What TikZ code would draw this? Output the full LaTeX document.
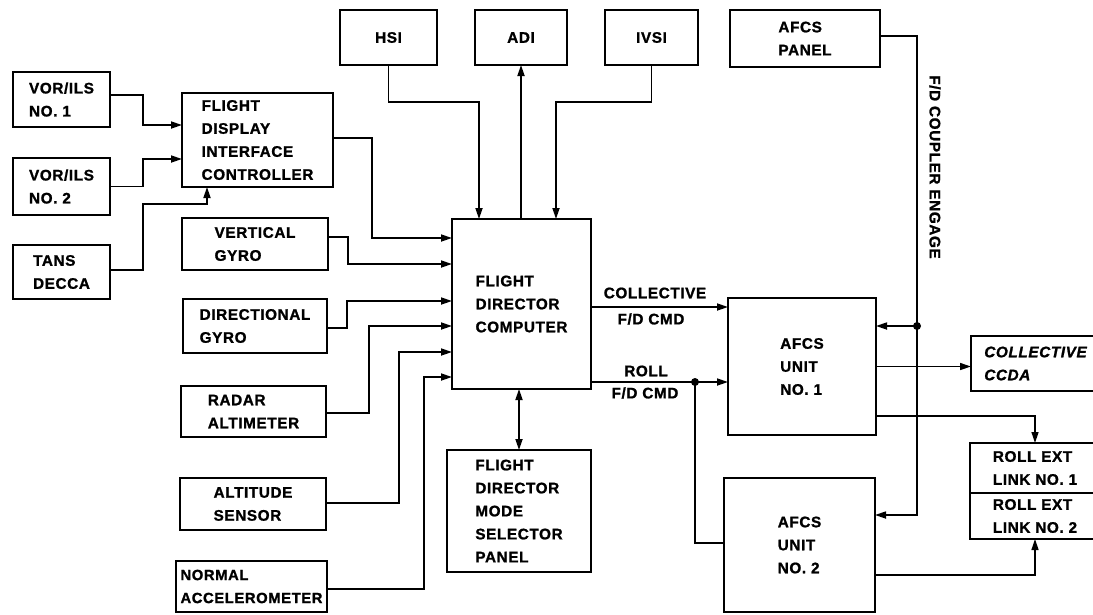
\documentclass[tikz,border=0pt]{standalone}
\usepackage{fontspec}
\setmainfont{Liberation Sans}[LetterSpace=4, BoldFeatures={FakeBold=1.2}, BoldItalicFeatures={FakeBold=1.2}]
\usetikzlibrary{arrows.meta}
\begin{document}
\begin{tikzpicture}[x=1pt,y=-1pt,
  box/.style={draw, line width=2.8pt, anchor=north west, inner sep=0pt, outer sep=0pt,
    align=left, font=\bfseries\fontsize{15.3}{23}\selectfont},
  conn/.style={line width=1.7pt, -{Triangle[length=11pt,width=7pt]}},
  thinconn/.style={line width=1.3pt, -{Triangle[length=11pt,width=7pt]}},
  plain/.style={line width=1.7pt},
  lbl/.style={font=\bfseries\fontsize{15.3}{23}\selectfont, inner sep=0pt},
  dot/.style={circle, fill, inner sep=0pt, minimum size=8pt}]
\fill[white] (0,0) rectangle (1093,614);
\useasboundingbox (0,0) rectangle (1093,614);

% left inputs
\node[box, minimum width=97pt, minimum height=55pt] (vor1) at (13,72) {VOR/ILS\\NO. 1};
\node[box, minimum width=97pt, minimum height=57pt] (vor2) at (13,158) {VOR/ILS\\NO. 2};
\node[box, minimum width=97pt, minimum height=54pt] (tans) at (13,245) {TANS\\DECCA};
\node[box, minimum width=151pt, minimum height=94pt] (fdic) at (182,93) {FLIGHT\\DISPLAY\\INTERFACE\\CONTROLLER};

\node[box, minimum width=146pt, minimum height=52pt] (vg) at (182,218) {VERTICAL\\GYRO};
\node[box, minimum width=144pt, minimum height=54pt] (dg) at (183,299) {DIRECTIONAL\\GYRO};
\node[box, minimum width=145pt, minimum height=51pt] (radar) at (181,386) {RADAR\\ALTIMETER};
\node[box, minimum width=146pt, minimum height=52pt] (alt) at (180,478) {ALTITUDE\\SENSOR};
\node[box, minimum width=151pt, minimum height=51pt, font=\bfseries\fontsize{14.8}{23}\selectfont] (nacc) at (176,561) {NORMAL\\ACCELEROMETER};

% top instruments
\node[box, minimum width=97pt, minimum height=55pt] (hsi) at (340,10) {HSI};
\node[box, minimum width=92pt, minimum height=55pt] (adi) at (475,10) {ADI};
\node[box, minimum width=93pt, minimum height=55pt] (ivsi) at (605,10) {IVSI};
\node[box, minimum width=150pt, minimum height=57pt] (afcsp) at (730,10) {AFCS\\PANEL};

% centre
\node[box, minimum width=139pt, minimum height=170pt] (fdc) at (452,219) {FLIGHT\\DIRECTOR\\COMPUTER};
\node[box, minimum width=144pt, minimum height=122pt] (fdmsp) at (447,450) {FLIGHT\\DIRECTOR\\MODE\\SELECTOR\\PANEL};

% right side
\node[box, minimum width=148pt, minimum height=137pt] (afcs1) at (728,298) {AFCS\\UNIT\\NO. 1};
\node[box, minimum width=151pt, minimum height=134pt] (afcs2) at (724,478) {AFCS\\UNIT\\NO. 2};
\node[box, minimum width=129pt, minimum height=55pt, font=\bfseries\itshape\fontsize{15.3}{23}\selectfont] (ccda) at (971,336) {COLLECTIVE\\CCDA};
\node[box, minimum width=130pt, minimum height=50pt] (rel1) at (970,443) {ROLL EXT\\LINK NO. 1};
\node[box, minimum width=130pt, minimum height=46pt] (rel2) at (970,493) {ROLL EXT\\LINK NO. 2};

% labels
\node[lbl] (lcol) at (655,293) {COLLECTIVE};
\node[lbl] (lcolb) at (651,319) {F/D CMD};
\node[lbl] (lroll) at (646,371) {ROLL};
\node[lbl] (lrollb) at (645,393) {F/D CMD};
\node[lbl, rotate=-90] (lcpl) at (935,167) {F/D COUPLER ENGAGE};

% connectors into FDIC
\draw[conn] ([yshift=4.5pt]vor1.east) -- ++(33,0) |- ([yshift=15pt]fdic.west);
\draw[conn] (vor2.east) -- ++(33,0) |- ([yshift=-19pt]fdic.west);
\draw[conn] ([yshift=2pt]tans.east) -- ++(33,0) -- ++(0,-66) -| ([xshift=-50.5pt]fdic.south);

% connectors into FDC
\draw[conn] ([yshift=2pt]fdic.east) -- ++(39,0) |- ([yshift=66pt]fdc.west);
\draw[conn] ([yshift=7pt]vg.east) -- ++(20,0) |- ([yshift=40pt]fdc.west);
\draw[conn] ([yshift=-2pt]dg.east) -- ++(20,0) |- ([yshift=3pt]fdc.west);
\draw[conn] ([yshift=-1.5pt]radar.east) -- ++(43,0) |- ([yshift=-22pt]fdc.west);
\draw[conn] ([yshift=1pt]alt.east) -- ++(73,0) |- ([yshift=-48pt]fdc.west);
\draw[conn] ([yshift=-2.5pt]nacc.east) -- ++(97,0) |- ([yshift=-73pt]fdc.west);

\draw[conn] (hsi.south) -- ++(0,37) -| ([xshift=-42.5pt]fdc.north);
\draw[conn] (adi.south |- fdc.north) -- (adi.south);
\draw[conn] (ivsi.south) -- ++(0,37) -| ([xshift=34.5pt]fdc.north);
\draw[line width=1.7pt, {Triangle[length=11pt,width=7pt]}-{Triangle[length=11pt,width=7pt]}]
  (fdmsp.north |- fdc.south) -- (fdmsp.north);

% outputs of FDC
\draw[conn] ([yshift=-3pt]fdc.east) -- ([yshift=-3pt]fdc.east -| afcs1.west);
\coordinate (rolldot) at ([yshift=-78pt,xshift=104pt]fdc.east);
\draw[conn] ([yshift=-78pt]fdc.east) -- ([yshift=-78pt]fdc.east -| afcs1.west);
\draw[plain] (rolldot) |- ([yshift=2pt]afcs2.west);
\node[dot] (rd) at (rolldot) {};

% AFCS panel coupler engage
\draw[conn] ([yshift=2.5pt]afcsp.east) -- ++(37,0) |- ([yshift=30pt]afcs2.east);
\coordinate (cdot) at (917,326);
\draw[conn] (cdot) -- (cdot -| afcs1.east);
\node[dot] (cd) at (cdot) {};

% AFCS outputs
\draw[thinconn] (afcs1.east) -- (afcs1.east -| ccda.west);
\draw[thinconn] ([yshift=-49.5pt]afcs1.east) -| (rel1.north);
\draw[thinconn] ([yshift=-30pt]afcs2.east) -| (rel2.south);
\end{tikzpicture}
\end{document}
